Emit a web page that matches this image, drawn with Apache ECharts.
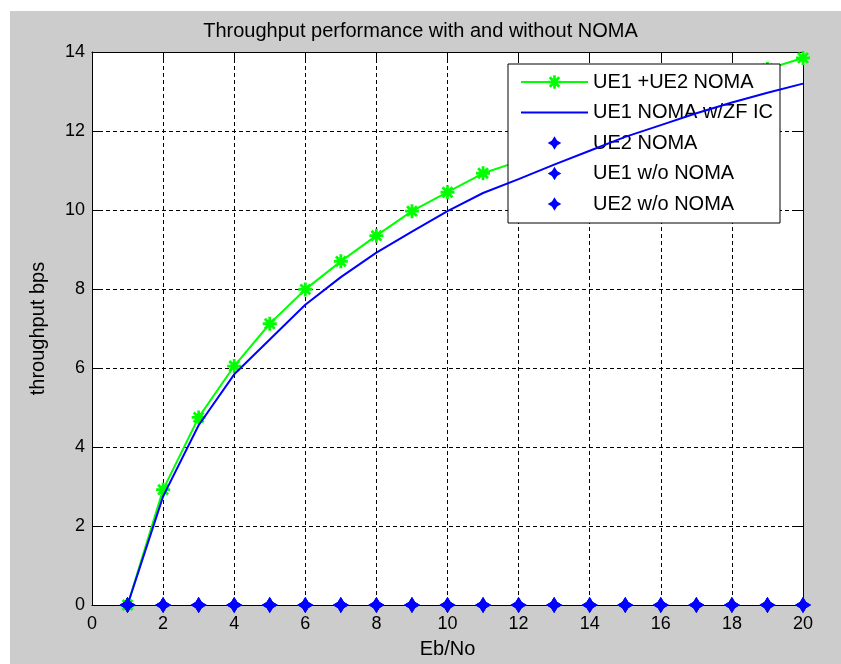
<!DOCTYPE html>
<html>
<head>
<meta charset="utf-8">
<script src="https://cdn.jsdelivr.net/npm/echarts@6/dist/echarts.min.js"></script>
<style>
html,body{margin:0;padding:0;background:#fff;}
#chart{width:841px;height:664px;}
</style>
</head>
<body>
<div id="chart"></div>
<script>
// ---- data ----
const ebno = [1,2,3,4,5,6,7,8,9,10,11,12,13,14,15,16,17,18,19,20];
const ue12Noma = [0,2.92,4.75,6.05,7.12,7.99,8.70,9.35,9.97,10.45,10.93,11.23,11.62,11.97,12.32,12.66,12.96,13.27,13.57,13.85];
const ue1NomaZF = [0,2.75,4.55,5.84,6.72,7.60,8.30,8.92,9.45,9.97,10.43,10.78,11.15,11.50,11.85,12.15,12.45,12.72,12.97,13.20];
const ue2Noma = [0,0,0,0,0,0,0,0,0,0,0,0,0,0,0,0,0,0,0,0];
const ue1WoNoma = [0,0,0,0,0,0,0,0,0,0,0,0,0,0,0,0,0,0,0,0];
const ue2WoNoma = [0,0,0,0,0,0,0,0,0,0,0,0,0,0,0,0,0,0,0,0];
const seriesNames = ['UE1 +UE2 NOMA','UE1 NOMA w/ZF IC','UE2 NOMA','UE1 w/o NOMA','UE2 w/o NOMA'];

const pairs = (xs, ys) => xs.map((x, i) => [x, ys[i]]);

const asterisk = 'path://M-1,-0.2L1,-0.2L1,0.2L-1,0.2Z' +
  'M0.2,-1L0.2,1L-0.2,1L-0.2,-1Z' +
  'M-0.5656,-0.8485L0.8485,0.5656L0.5656,0.8485L-0.8485,-0.5656Z' +
  'M0.8485,-0.5656L-0.5656,0.8485L-0.8485,0.5656L0.5656,-0.8485Z';
const star4 = 'path://M0,-1L0.38,-0.38L1,0L0.38,0.38L0,1L-0.38,0.38L-1,0L-0.38,-0.38Z';

const FONT = 'Arial, "Liberation Sans", Helvetica, sans-serif';
const gridLine = {show:true, lineStyle:{color:'#000', type:[4,3], width:1}};
const axisLine = {show:true, onZero:false, lineStyle:{color:'#000', width:1}};
const tickIn = {show:true, inside:true, length:7, lineStyle:{color:'#000'}};

const pointSeries = (name, ys) => ({
  name, type:'line', data:pairs(ebno, ys),
  symbol:star4, symbolSize:16, showAllSymbol:true,
  lineStyle:{width:0, opacity:0},
  itemStyle:{color:'#0000ff'}, z:5
});

const chart = echarts.init(document.getElementById('chart'));
chart.setOption({
  backgroundColor:'#ffffff',
  animation:false,
  textStyle:{fontFamily:FONT},
  graphic:[{type:'rect', left:10, top:11, shape:{width:831, height:653}, style:{fill:'#cccccc'}, z:-100, silent:true}],
  title:{
    text:'Throughput performance with and without NOMA',
    left:'center', top:16,
    textStyle:{fontFamily:FONT, fontSize:20, fontWeight:'normal', color:'#000'}
  },
  grid:{left:92, top:52, right:38, bottom:55, show:true, backgroundColor:'#fff', borderWidth:0},
  legend:{
    orient:'vertical', left:508, top:64,
    backgroundColor:'#fff', borderColor:'#000', borderWidth:1, borderRadius:0,
    padding:[6,7,7,12],
    itemWidth:67, itemHeight:17, itemGap:6.5,
    textStyle:{fontFamily:FONT, fontSize:20, color:'#000', lineHeight:24},
    data:[
      {name:seriesNames[0]},
      {name:seriesNames[1], itemStyle:{opacity:0}},
      {name:seriesNames[2]},
      {name:seriesNames[3]},
      {name:seriesNames[4]}
    ]
  },
  xAxis:[{
    type:'value', min:0, max:20, interval:2,
    name:'Eb/No', nameLocation:'middle', nameGap:34,
    nameTextStyle:{fontFamily:FONT, fontSize:20, color:'#000'},
    axisLine, axisTick:tickIn, splitLine:gridLine,
    axisLabel:{fontFamily:FONT, fontSize:18, color:'#000', margin:10}
  },{
    type:'value', min:0, max:20, interval:2, position:'top',
    axisLine, axisTick:tickIn, splitLine:{show:false}, axisLabel:{show:false}
  }],
  yAxis:[{
    type:'value', min:0, max:14, interval:2,
    name:'throughput bps', nameLocation:'middle', nameGap:44,
    nameTextStyle:{fontFamily:FONT, fontSize:20, color:'#000'},
    axisLine, axisTick:tickIn, splitLine:gridLine,
    axisLabel:{fontFamily:FONT, fontSize:18, color:'#000', margin:7}
  },{
    type:'value', min:0, max:14, interval:2, position:'right',
    axisLine, axisTick:tickIn, splitLine:{show:false}, axisLabel:{show:false}
  }],
  series:[
    {
      name:seriesNames[0], type:'line', data:pairs(ebno, ue12Noma),
      symbol:asterisk, symbolSize:14, showAllSymbol:true,
      lineStyle:{color:'#00ff00', width:2}, itemStyle:{color:'#00ff00'}, z:3
    },
    {
      name:seriesNames[1], type:'line', data:pairs(ebno, ue1NomaZF),
      symbol:'none', showSymbol:false,
      lineStyle:{color:'#0000ff', width:2}, itemStyle:{color:'#0000ff'}, z:4
    },
    pointSeries(seriesNames[2], ue2Noma),
    pointSeries(seriesNames[3], ue1WoNoma),
    pointSeries(seriesNames[4], ue2WoNoma)
  ]
});
</script>
</body>
</html>
